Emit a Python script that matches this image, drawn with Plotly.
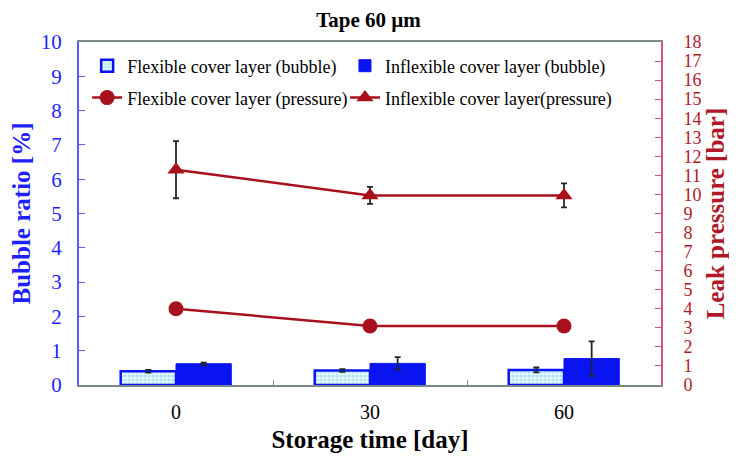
import plotly.graph_objects as go

categories = ["0", "30", "60"]
flex_bubble = [0.40, 0.42, 0.44]
flex_bubble_err = [0.04, 0.04, 0.07]
inflex_bubble = [0.62, 0.63, 0.77]
inflex_bubble_err = [0.03, 0.18, 0.50]
flex_pressure = [4.0, 3.1, 3.1]
flex_pressure_err = [0.15, 0.05, 0.05]
inflex_pressure = [11.3, 9.95, 9.95]
inflex_pressure_err = [1.5, 0.45, 0.63]

FONT = "Liberation Serif"
BLUE = "#0a14f0"
BLUE_TXT = "#1f1fff"
RED = "#a8101c"
RED_TXT = "#b0182a"
ERR = "#1c2830"
GRAY = "#7a8a8c"

fig = go.Figure()
fig.add_trace(go.Bar(
    x=categories, y=flex_bubble, name="Flexible cover layer (bubble)",
    marker=dict(color="white", line=dict(color=BLUE, width=2.5),
                pattern=dict(shape=".", fgcolor="#6fcfee", bgcolor="#e8f8fd", size=4, solidity=0.5)),
    error_y=dict(type="data", array=flex_bubble_err, color=ERR, thickness=1.8, width=3),
    legend="legend", showlegend=True,
))
fig.add_trace(go.Bar(
    x=categories, y=inflex_bubble, name="Inflexible cover layer (bubble)",
    marker=dict(color=BLUE, line=dict(color=BLUE, width=1)),
    error_y=dict(type="data", array=inflex_bubble_err, color=ERR, thickness=1.8, width=3),
    legend="legend2", showlegend=True,
))
fig.add_trace(go.Scatter(
    x=categories, y=flex_pressure, name="Flexible cover layer (pressure)", yaxis="y2",
    mode="lines+markers", line=dict(color=RED, width=2.5),
    marker=dict(symbol="circle", size=15, color=RED),
    error_y=dict(type="data", array=flex_pressure_err, color=ERR, thickness=1.8, width=3),
    legend="legend3", showlegend=True,
))
fig.add_trace(go.Scatter(
    x=categories, y=inflex_pressure, name="Inflexible cover layer(pressure)", yaxis="y2",
    mode="lines+markers", line=dict(color=RED, width=2.5),
    marker=dict(symbol="triangle-up", size=15, color=RED),
    error_y=dict(type="data", array=inflex_pressure_err, color=ERR, thickness=1.8, width=3),
    legend="legend4", showlegend=True,
))

def leg(x, y):
    return dict(
        orientation="h", x=x, y=y, xanchor="left", yanchor="middle",
        font=dict(family=FONT, size=18, color="black"),
        bgcolor="rgba(0,0,0,0)", itemwidth=30,
    )

fig.update_layout(
    width=721, height=445,
    showlegend=True,
    margin=dict(l=71, r=68, t=34, b=68, autoexpand=False),
    paper_bgcolor="white", plot_bgcolor="white",
    font=dict(family=FONT, color="black"),
    barmode="group", bargap=0.43, bargroupgap=0,
    title=dict(text="<b>Tape 60 µm</b>", x=0.5, xanchor="center", y=0.99, yanchor="top",
               font=dict(family=FONT, size=21, color="black")),
    xaxis=dict(
        type="category", range=[-0.5, 2.5], automargin=False,
        showline=True, linecolor=GRAY, linewidth=2, mirror=True,
        ticks="inside", tickson="boundaries", ticklen=5, tickcolor=GRAY, tickwidth=1,
        tickfont=dict(family=FONT, size=20, color="black"), ticklabelstandoff=8,
        title=dict(text="<b>Storage time [day]</b>", font=dict(family=FONT, size=25, color="black"), standoff=9),
        showgrid=False, zeroline=False,
    ),
    yaxis=dict(
        range=[0, 10], dtick=1, tick0=0, automargin=False,
        showline=True, linecolor="#5a5aff", linewidth=2,
        ticks="inside", ticklen=6, tickcolor="#5a5aff", tickwidth=1,
        tickfont=dict(family=FONT, size=21, color=BLUE_TXT), ticklabelstandoff=11,
        title=dict(text="<b>Bubble ratio [%]</b>", font=dict(family=FONT, size=25, color=BLUE_TXT), standoff=10),
        showgrid=False, zeroline=False,
    ),
    yaxis2=dict(
        range=[0, 18], dtick=1, tick0=0, overlaying="y", side="right", automargin=False,
        showline=True, linecolor="#e0507a", linewidth=2,
        ticks="inside", ticklen=6, tickcolor="#e0507a", tickwidth=1,
        tickfont=dict(family=FONT, size=18, color=RED_TXT), ticklabelstandoff=17,
        title=dict(text="<b>Leak pressure [bar]</b>", font=dict(family=FONT, size=25, color=RED_TXT), standoff=1),
        showgrid=False, zeroline=False,
    ),
    legend=leg(0.014, 0.93),
    legend2=leg(0.457, 0.93),
    legend3=leg(0.014, 0.837),
    legend4=leg(0.457, 0.837),
)

fig.write_html("out.html")
